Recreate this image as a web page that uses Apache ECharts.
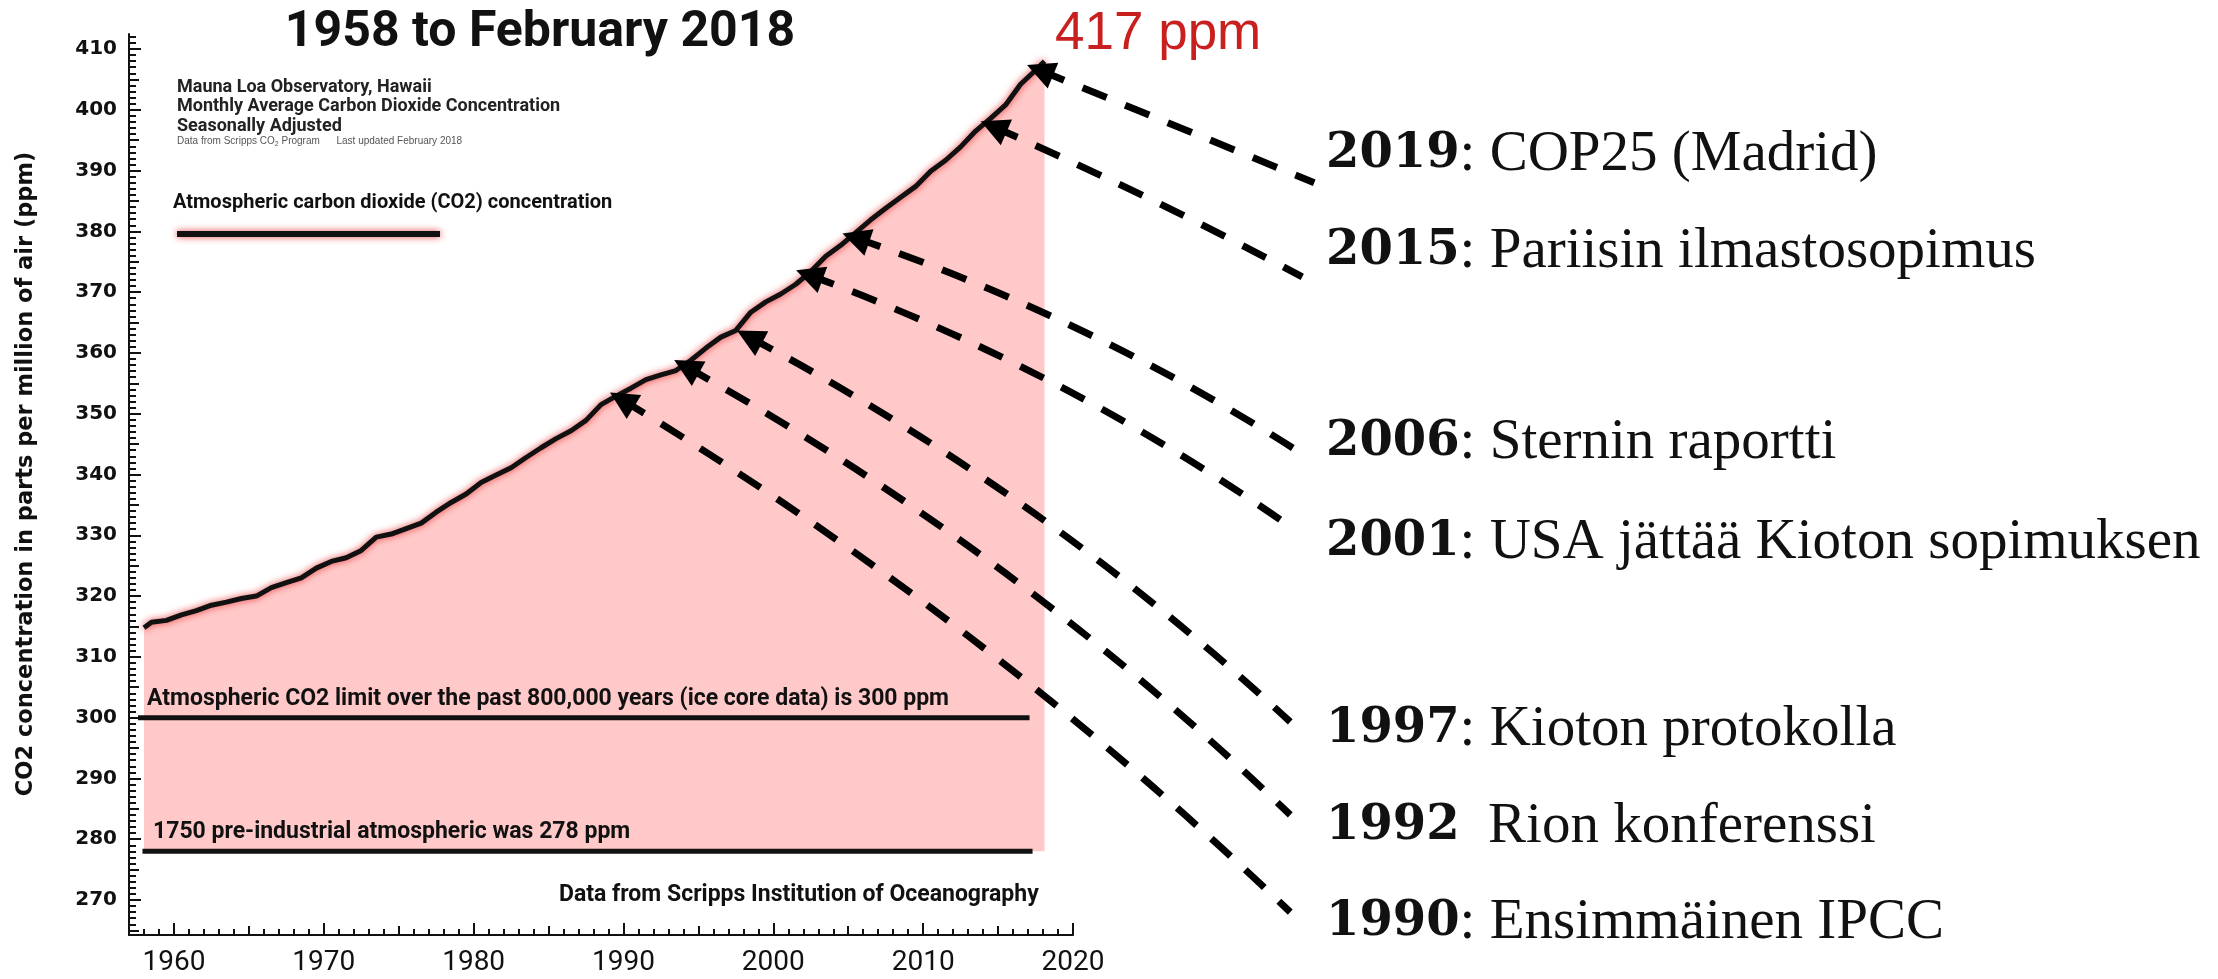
<!DOCTYPE html>
<html>
<head>
<meta charset="utf-8">
<script src="https://cdn.jsdelivr.net/npm/echarts@6/dist/echarts.min.js"></script>
<style>
  html, body { margin: 0; padding: 0; background: #fff; }
  #chart { width: 2218px; height: 979px; }
</style>
</head>
<body>
<div id="chart"></div>
<script>
// CO2 (ppm), roughly mid-year points
const years = [1958.0, 1958.5, 1959.5, 1960.5, 1961.5, 1962.5, 1963.5, 1964.5, 1965.5, 1966.5,
               1967.5, 1968.5, 1969.5, 1970.5, 1971.5, 1972.5, 1973.5, 1974.5, 1975.5, 1976.5,
               1977.5, 1978.5, 1979.5, 1980.5, 1981.5, 1982.5, 1983.5, 1984.5, 1985.5, 1986.5,
               1987.5, 1988.5, 1989.5, 1990.5, 1991.5, 1992.5, 1993.5, 1994.5, 1995.5, 1996.5,
               1997.5, 1998.5, 1999.5, 2000.5, 2001.5, 2002.5, 2003.5, 2004.5, 2005.5, 2006.5,
               2007.5, 2008.5, 2009.5, 2010.5, 2011.5, 2012.5, 2013.5, 2014.5, 2015.5, 2016.5,
               2017.5, 2018.1];
const co2 = [314.8, 315.7, 316.0, 316.9, 317.6, 318.5, 319.0, 319.6, 320.0, 321.4,
             322.2, 323.0, 324.6, 325.7, 326.3, 327.5, 329.7, 330.2, 331.1, 332.0,
             333.8, 335.4, 336.8, 338.7, 339.9, 341.1, 342.8, 344.4, 345.9, 347.2,
             348.9, 351.5, 352.9, 354.2, 355.6, 356.4, 357.1, 358.8, 360.8, 362.6,
             363.7, 366.7, 368.4, 369.7, 371.3, 373.4, 375.9, 377.7, 379.8, 381.9,
             383.8, 385.6, 387.4, 389.9, 391.7, 393.9, 396.5, 398.6, 400.8, 404.2,
             406.5, 408.0];

// reference levels
const limit300 = [[1957.6, 300], [2017.1, 300]];
const preIndustrial278 = [[1957.9, 278], [2017.3, 278]];

// axis labels
const yTicks = [270, 280, 290, 300, 310, 320, 330, 340, 350, 360, 370, 380, 390, 400, 410];
const xTicks = [1960, 1970, 1980, 1990, 2000, 2010, 2020];

// events (Finnish) and where their arrows point: tip on the curve, tail next to the label
const eventYears = ['2019', '2015', '2006', '2001', '1997', '1992', '1990'];
const eventTexts = [': COP25 (Madrid)', ': Pariisin ilmastosopimus', ': Sternin raportti',
                    ': USA jättää Kioton sopimuksen', ': Kioton protokolla', '  Rion konferenssi',
                    ': Ensimmäinen IPCC'];
const arrowTip = [[2017.8, 406.5], [2014.7, 397.2], [2005.5, 378.9], [2002.4, 372.8],
                  [1998.4, 362.6], [1994.2, 357.7], [1989.9, 352.3]];
const arrowTail = [[2036.1, 388.0], [2035.3, 372.5], [2035.1, 343.7], [2034.8, 330.9],
                   [2034.5, 299.3], [2034.5, 284.0], [2034.5, 268.0]];

const range = (a, b, s) => { const r = []; for (let v = a; v <= b + 1e-9; v += s) r.push(v); return r; };

const chart = echarts.init(document.getElementById('chart'));

const co2Data = years.map((y, i) => [y, co2[i]]);
const bends = [0.0, 0.02, 0.06, 0.065, 0.065, 0.065, 0.055];
const arrows = eventYears.map((e, i) => ({
    coords: [arrowTip[i], arrowTail[i]],
    lineStyle: { curveness: bends[i] }
}));

const sansBold = 'Roboto, "Liberation Sans", sans-serif';
const glow = 'rgba(232, 55, 55, 0.95)';

function txt(x, y, text, font, extra) {
    return {
        type: 'text', x: x, y: y, z: 100,
        style: Object.assign({ text: text, font: font, fill: '#111', verticalAlign: 'middle' }, extra || {})
    };
}

const Y_MIN = 264.24, Y_MAX = 412.47;
const X_MIN = 1957, X_MAX = 2020;
const hiddenLine = { show: false };
const tickStyle = { color: '#111', width: 2 };
const plotBox = { left: 129, top: 34, width: 944, height: 901 };

// axis 0 carries labels and the 1-step comb, axes 1 and 2 (same box) the longer 10- and 5-step ticks
function tickX(grid, values, len) {
    return {
        type: 'value', gridIndex: grid, min: X_MIN, max: X_MAX, splitLine: { show: false },
        axisLine: hiddenLine, axisLabel: { show: false, customValues: values },
        axisTick: { show: true, inside: true, length: len, customValues: values, lineStyle: tickStyle }
    };
}
function tickY(grid, values, len) {
    return {
        type: 'value', gridIndex: grid, min: Y_MIN, max: Y_MAX, splitLine: { show: false },
        axisLine: hiddenLine, axisLabel: { show: false, customValues: values },
        axisTick: { show: true, inside: true, length: len, customValues: values, lineStyle: tickStyle }
    };
}

const option = {
    animation: false,
    backgroundColor: '#fff',
    grid: [Object.assign({}, plotBox), Object.assign({}, plotBox), Object.assign({}, plotBox)],
    xAxis: [
        {
            type: 'value', gridIndex: 0, min: X_MIN, max: X_MAX, splitLine: { show: false },
            axisLine: { show: true, lineStyle: { color: '#111', width: 2 } },
            axisTick: { show: true, inside: true, length: 6, customValues: range(1957, 2020, 1), lineStyle: tickStyle },
            axisLabel: { show: true, customValues: xTicks, margin: 14, color: '#111',
                         formatter: v => String(v),
                         fontFamily: 'Roboto, sans-serif', fontSize: 28 }
        },
        tickX(1, xTicks, 12),
        tickX(2, range(1965, 2015, 10), 9)
    ],
    yAxis: [
        {
            type: 'value', gridIndex: 0, min: Y_MIN, max: Y_MAX, splitLine: { show: false },
            axisLine: { show: true, lineStyle: { color: '#111', width: 2 } },
            axisTick: { show: true, inside: true, length: 7, customValues: range(265, 412, 1), lineStyle: tickStyle },
            axisLabel: { show: true, customValues: yTicks, margin: 12, color: '#111',
                         formatter: v => String(v),
                         fontFamily: '"DejaVu Sans", sans-serif', fontWeight: 'bold', fontSize: 20 }
        },
        tickY(1, yTicks, 12),
        tickY(2, range(265, 405, 10), 10)
    ],
    legend: {
        data: [{ name: 'CO2', icon: 'rect' }],
        left: 172, top: 226, itemWidth: 263, itemHeight: 6,
        selectedMode: false,
        formatter: () => '',
        itemStyle: { color: '#111', shadowBlur: 7, shadowColor: glow }
    },
    series: [
        {
            name: 'CO2', type: 'line', data: co2Data,
            showSymbol: false, symbol: 'none', z: 3,
            lineStyle: { color: '#111', width: 5, shadowColor: glow, shadowBlur: 7 },
            areaStyle: { color: '#ffc9c9', opacity: 1, origin: 278 }
        },
        {
            // grids 1 and 2 map exactly like grid 0
            name: 'limit', type: 'line', data: limit300, symbol: 'none', z: 4,
            xAxisIndex: 1, yAxisIndex: 1,
            lineStyle: { color: '#111', width: 5 }
        },
        {
            name: 'pre', type: 'line', data: preIndustrial278, symbol: 'none', z: 4,
            xAxisIndex: 2, yAxisIndex: 2,
            lineStyle: { color: '#111', width: 5 }
        },
        {
            name: 'events', type: 'lines', coordinateSystem: 'cartesian2d',
            xAxisIndex: 0, yAxisIndex: 0,
            clip: false, z: 6,
            symbol: ['triangle', 'none'], symbolSize: [28, 24],
            lineStyle: { color: '#000', width: 7, type: [26, 20], opacity: 1 },
            data: arrows
        }
    ],
    graphic: [
        txt(540, 33, '1958 to February 2018', 'bold 50px ' + sansBold, { align: 'center' }),
        txt(177, 87, 'Mauna Loa Observatory, Hawaii', 'bold 18px ' + sansBold, { fill: '#222' }),
        txt(177, 106, 'Monthly Average Carbon Dioxide Concentration', 'bold 18px ' + sansBold, { fill: '#222' }),
        txt(177, 126, 'Seasonally Adjusted', 'bold 18px ' + sansBold, { fill: '#222' }),
        txt(177, 141, 'Data from Scripps CO{s|2} Program      Last updated February 2018', '10px "Liberation Sans", sans-serif',
            { fill: '#555', rich: { s: { fontSize: 7, padding: [6, 0, 0, 0], fill: '#555' } } }),
        txt(173, 203, 'Atmospheric carbon dioxide (CO2) concentration', 'bold 20px ' + sansBold),
        txt(147, 699, 'Atmospheric CO2 limit over the past 800,000 years (ice core data) is 300 ppm', 'bold 23px ' + sansBold),
        txt(153, 832, '1750 pre-industrial atmospheric was 278 ppm', 'bold 23px ' + sansBold),
        txt(559, 895, 'Data from Scripps Institution of Oceanography', 'bold 23px ' + sansBold),
        Object.assign(txt(26, 474, 'CO2 concentration in parts per million of air (ppm)', 'bold 22.5px "DejaVu Sans", sans-serif',
            { align: 'center' }), { rotation: Math.PI / 2 }),
        txt(1055, 34, '417 ppm', '53px "Liberation Sans", Arial, sans-serif', { fill: '#c8201e' })
    ].concat(eventYears.map((y, i) => txt(1326, [155, 252, 443, 543, 730, 827, 923][i],
        '{y|' + y + '}{t|' + eventTexts[i] + '}', '57px "Liberation Serif", serif', {
            rich: {
                y: { fontFamily: '"DejaVu Serif", serif', fontWeight: 'bold', fontSize: 48, fill: '#111' },
                t: { fontFamily: '"Liberation Serif", serif', fontSize: 57, fill: '#111' }
            }
        })))
};

chart.setOption(option);
</script>
</body>
</html>
